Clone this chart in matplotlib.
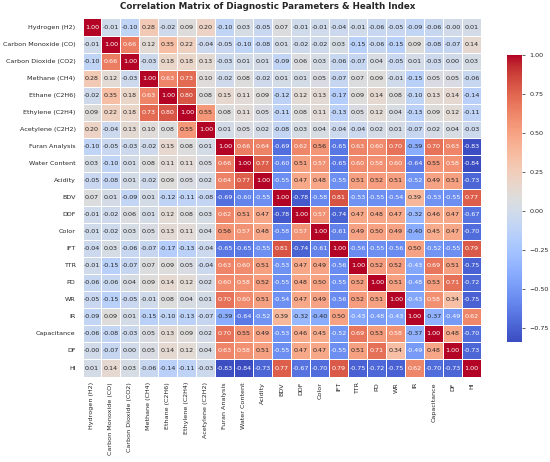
import numpy as np
import matplotlib
matplotlib.use("Agg")
import matplotlib.pyplot as plt
import seaborn as sns

## data area
labels = ["Hydrogen (H2)", "Carbon Monoxide (CO)", "Carbon Dioxide (CO2)", "Methane (CH4)",
          "Ethane (C2H6)", "Ethylene (C2H4)", "Acetylene (C2H2)", "Furan Analysis",
          "Water Content", "Acidity", "BDV", "DDF", "Color", "IFT", "TTR", "PD", "WR",
          "IR", "Capacitance", "DF", "HI"]

row_h2 = [1.00, -0.01, -0.10, 0.28, -0.02, 0.09, 0.20, -0.10, 0.03, -0.05, 0.07, -0.01, -0.01, -0.04, -0.01, -0.06, -0.05, -0.09, -0.06, -0.0, 0.01]
row_co = [-0.01, 1.00, 0.66, 0.12, 0.35, 0.22, -0.04, -0.05, -0.10, -0.08, 0.01, -0.02, -0.02, 0.03, -0.15, -0.06, -0.15, 0.09, -0.08, -0.07, 0.14]
row_co2 = [-0.10, 0.66, 1.00, -0.03, 0.18, 0.18, 0.13, -0.03, 0.01, 0.01, -0.09, 0.06, 0.03, -0.06, -0.07, 0.04, -0.05, 0.01, -0.03, 0.00, 0.03]
row_ch4 = [0.28, 0.12, -0.03, 1.00, 0.63, 0.73, 0.10, -0.02, 0.08, -0.02, 0.01, 0.01, 0.05, -0.07, 0.07, 0.09, -0.01, -0.15, 0.05, 0.05, -0.06]
row_c2h6 = [-0.02, 0.35, 0.18, 0.63, 1.00, 0.80, 0.08, 0.15, 0.11, 0.09, -0.12, 0.12, 0.13, -0.17, 0.09, 0.14, 0.08, -0.10, 0.13, 0.14, -0.14]
row_c2h4 = [0.09, 0.22, 0.18, 0.73, 0.80, 1.00, 0.55, 0.08, 0.11, 0.05, -0.11, 0.08, 0.11, -0.13, 0.05, 0.12, 0.04, -0.13, 0.09, 0.12, -0.11]
row_c2h2 = [0.20, -0.04, 0.13, 0.10, 0.08, 0.55, 1.00, 0.01, 0.05, 0.02, -0.08, 0.03, 0.04, -0.04, -0.04, 0.02, 0.01, -0.07, 0.02, 0.04, -0.03]
row_furan = [-0.10, -0.05, -0.03, -0.02, 0.15, 0.08, 0.01, 1.00, 0.66, 0.64, -0.69, 0.62, 0.56, -0.65, 0.63, 0.60, 0.70, -0.39, 0.70, 0.63, -0.83]
row_water = [0.03, -0.10, 0.01, 0.08, 0.11, 0.11, 0.05, 0.66, 1.00, 0.77, -0.60, 0.51, 0.57, -0.65, 0.60, 0.58, 0.60, -0.64, 0.55, 0.58, -0.84]
row_acid = [-0.05, -0.08, 0.01, -0.02, 0.09, 0.05, 0.02, 0.64, 0.77, 1.00, -0.55, 0.47, 0.48, -0.55, 0.51, 0.52, 0.51, -0.52, 0.49, 0.51, -0.73]
row_bdv = [0.07, 0.01, -0.09, 0.01, -0.12, -0.11, -0.08, -0.69, -0.60, -0.55, 1.00, -0.78, -0.58, 0.81, -0.53, -0.55, -0.54, 0.39, -0.53, -0.55, 0.77]
row_ddf = [-0.01, -0.02, 0.06, 0.01, 0.12, 0.08, 0.03, 0.62, 0.51, 0.47, -0.78, 1.00, 0.57, -0.74, 0.47, 0.48, 0.47, -0.32, 0.46, 0.47, -0.67]
row_color = [-0.01, -0.02, 0.03, 0.05, 0.13, 0.11, 0.04, 0.56, 0.57, 0.48, -0.58, 0.57, 1.00, -0.61, 0.49, 0.50, 0.49, -0.40, 0.45, 0.47, -0.70]
row_ift = [-0.04, 0.03, -0.06, -0.07, -0.17, -0.13, -0.04, -0.65, -0.65, -0.55, 0.81, -0.74, -0.61, 1.00, -0.56, -0.55, -0.56, 0.50, -0.52, -0.55, 0.79]
row_ttr = [-0.01, -0.15, -0.07, 0.07, 0.09, 0.05, -0.04, 0.63, 0.60, 0.51, -0.53, 0.47, 0.49, -0.56, 1.00, 0.52, 0.52, -0.43, 0.69, 0.51, -0.75]
row_pd = [-0.06, -0.06, 0.04, 0.09, 0.14, 0.12, 0.02, 0.60, 0.58, 0.52, -0.55, 0.48, 0.50, -0.55, 0.52, 1.00, 0.51, -0.48, 0.53, 0.71, -0.72]
row_wr = [-0.05, -0.15, -0.05, -0.01, 0.08, 0.04, 0.01, 0.70, 0.60, 0.51, -0.54, 0.47, 0.49, -0.56, 0.52, 0.51, 1.00, -0.43, 0.58, 0.34, -0.75]
row_ir = [-0.09, 0.09, 0.01, -0.15, -0.10, -0.13, -0.07, -0.39, -0.64, -0.52, 0.39, -0.32, -0.40, 0.50, -0.43, -0.48, -0.43, 1.00, -0.37, -0.49, 0.62]
row_cap = [-0.06, -0.08, -0.03, 0.05, 0.13, 0.09, 0.02, 0.70, 0.55, 0.49, -0.53, 0.46, 0.45, -0.52, 0.69, 0.53, 0.58, -0.37, 1.00, 0.48, -0.70]
row_df = [-0.0, -0.07, 0.00, 0.05, 0.14, 0.12, 0.04, 0.63, 0.58, 0.51, -0.55, 0.47, 0.47, -0.55, 0.51, 0.71, 0.34, -0.49, 0.48, 1.00, -0.73]
row_hi = [0.01, 0.14, 0.03, -0.06, -0.14, -0.11, -0.03, -0.83, -0.84, -0.73, 0.77, -0.67, -0.70, 0.79, -0.75, -0.72, -0.75, 0.62, -0.70, -0.73, 1.00]

corr = np.array([row_h2, row_co, row_co2, row_ch4, row_c2h6, row_c2h4, row_c2h2,
                 row_furan, row_water, row_acid, row_bdv, row_ddf, row_color, row_ift,
                 row_ttr, row_pd, row_wr, row_ir, row_cap, row_df, row_hi])

## plot area
plt.rcParams['font.family'] = ['DejaVu Sans']
text_col = '#262626'

fig = plt.figure(figsize=(5.5, 4.62), dpi=100)
ax = fig.add_axes([0.150, 0.185, 0.725, 0.775])
cax = fig.add_axes([0.922, 0.260, 0.027, 0.621])

sns.heatmap(corr, ax=ax, cbar_ax=cax, cmap='coolwarm', annot=True, fmt='.2f',
            annot_kws={'fontsize': 4.6}, linewidths=0.5, linecolor='white',
            xticklabels=labels, yticklabels=labels)

ax.tick_params(axis='y', length=0, labelsize=4.6, labelcolor=text_col, pad=5)
ax.tick_params(axis='x', length=0, labelsize=4.6, labelcolor=text_col, pad=4)
plt.setp(ax.get_xticklabels(), rotation=90)
plt.setp(ax.get_yticklabels(), rotation=0)

cax.tick_params(labelsize=4.6, labelcolor=text_col, length=2, width=0.5, color=text_col)

fig.suptitle('Correlation Matrix of Diagnostic Parameters & Health Index', x=0.487, y=0.985,
             va='center', fontsize=6.3, fontweight='bold', color=text_col)

fig.savefig('out.png', dpi=100, facecolor='white')
